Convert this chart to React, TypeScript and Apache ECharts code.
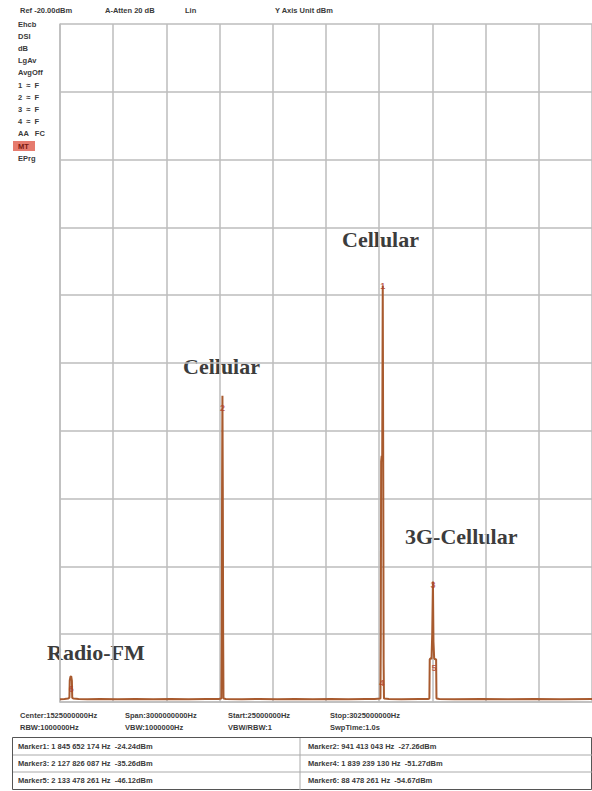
import React, { useEffect, useRef } from "react";
import * as echarts from "echarts";

// ---- axis setup (spectrum analyser, linear amplitude scale) ----
const START_MHZ = 25;
const STOP_MHZ = 3025;
const DIV_MHZ = 300;
const REF_DBM = -20;

// ---- trace: frequency (MHz) and level (dBm) ----
const traceFreqMHz = [
  25, 50, 70, 78, 80, 84, 88, 92, 94, 100, 130, 180, 250, 350, 450, 550, 650, 750, 850,
  920, 935, 937, 939, 941, 943, 945, 947, 960, 1050, 1150, 1250, 1350, 1450, 1550, 1650, 1750,
  1800, 1832, 1834, 1836, 1839, 1842, 1845, 1848, 1850, 1852, 1880, 1950, 2050,
  2100, 2108, 2110, 2116, 2120, 2124, 2128, 2131, 2135, 2140, 2146, 2148, 2165, 2250, 2400, 2550,
  2700, 2850, 3025,
];
const traceLevelDbm = [
  -68, -67, -66, -64, -50, -48.6, -48.4, -50, -64, -66, -67, -68, -67, -68, -67, -68, -67, -68, -67,
  -67, -66, -40, -30, -26.9, -30, -40, -66, -67, -68, -67, -68, -67, -68, -67, -68, -67,
  -67, -66, -40, -29, -28.8, -29, -24.24, -30, -45, -66, -67, -68, -67,
  -67, -66, -44, -43.8, -44, -40, -35.0, -41, -43.8, -44, -44, -66, -67, -68, -67, -68,
  -67, -68, -67,
];

// ---- markers ----
const markerIds = ["1", "2", "3", "4", "5", "6"];
const markerFreqHz = [1845652174, 941413043, 2127826087, 1839239130, 2133478261, 88478261];
const markerLevelDbm = [-24.24, -27.26, -35.26, -51.27, -46.12, -54.67];

// ---- annotations ----
const annotations = ["Radio-FM", "Cellular", "Cellular", "3G-Cellular"];

// ---- instrument texts ----
const headerTexts = ["Ref -20.00dBm", "A-Atten 20 dB", "Lin", "Y Axis Unit dBm"];
const sideTexts = ["Ehcb", "DSI", "dB", "LgAv", "AvgOff", "1  \u2248  F", "2  \u2248  F", "3  \u2248  F", "4  \u2248  F", "AA   FC", "MT", "EPrg"];
const infoRow1 = ["Center:1525000000Hz", "Span:3000000000Hz", "Start:25000000Hz", "Stop:3025000000Hz"];
const infoRow2 = ["RBW:1000000Hz", "VBW:1000000Hz", "VBW/RBW:1", "SwpTime:1.0s"];

const toPct = (dbm: number) => 100 * Math.pow(10, (dbm - REF_DBM) / 20);

function fmtHz(hz: number) {
  const s = String(hz);
  const parts: string[] = [];
  for (let i = s.length; i > 0; i -= 3) parts.unshift(s.slice(Math.max(0, i - 3), i));
  return parts.join(" ");
}

export default function App() {
  const ref = useRef<HTMLDivElement>(null);
  useEffect(() => {
    if (!ref.current) return;
    const chart = echarts.init(ref.current, null, { renderer: "svg" });

    const trace = traceFreqMHz.map((f, i) => [f - START_MHZ, toPct(traceLevelDbm[i])]);
    const markers = markerIds.map((id, i) => [markerFreqHz[i] / 1e6 - START_MHZ, toPct(markerLevelDbm[i]), id]);

    const small = { fontFamily: "Liberation Sans", fontSize: 7.5, fill: "#3a3a3a", fontWeight: "bold" as const };
    const big = { fontFamily: "Liberation Serif", fontSize: 22, fontWeight: "bold" as const, fill: "#3c3c3c" };

    const graphics: any[] = [];
    const hx = [20, 105, 185, 275];
    headerTexts.forEach((t, i) => graphics.push({ type: "text", left: hx[i], top: 6, style: { ...small, text: t } }));
    sideTexts.forEach((t, i) => {
      const y = 20 + i * 12.2;
      if (t === "MT") {
        graphics.push({ type: "rect", shape: { x: 13, y: y - 1, width: 22, height: 10 }, style: { fill: "#e05a4a", opacity: 0.8 } });
      }
      graphics.push({ type: "text", left: 18, top: y, style: { ...small, text: t, fill: t === "MT" ? "#7a1a10" : "#3a3a3a" } });
    });
    const ix = [20, 125, 228, 330];
    infoRow1.forEach((t, i) => graphics.push({ type: "text", left: ix[i], top: 711, style: { ...small, text: t } }));
    infoRow2.forEach((t, i) => graphics.push({ type: "text", left: ix[i], top: 723, style: { ...small, text: t } }));

    // marker table
    graphics.push({ type: "rect", shape: { x: 12.5, y: 737.5, width: 579, height: 52 }, style: { fill: "none", stroke: "#555", lineWidth: 1 } });
    graphics.push({ type: "line", shape: { x1: 13, y1: 755, x2: 592, y2: 755 }, style: { stroke: "#aaa", lineWidth: 1 } });
    graphics.push({ type: "line", shape: { x1: 13, y1: 772, x2: 592, y2: 772 }, style: { stroke: "#aaa", lineWidth: 1 } });
    graphics.push({ type: "line", shape: { x1: 300, y1: 738, x2: 300, y2: 790 }, style: { stroke: "#aaa", lineWidth: 1 } });
    const order = [[0, 1], [2, 3], [4, 5]];
    order.forEach((pair, r) => {
      pair.forEach((m, c) => {
        graphics.push({
          type: "text",
          left: c === 0 ? 18 : 308,
          top: 742 + r * 17,
          style: { ...small, text: `Marker${markerIds[m]}: ${fmtHz(markerFreqHz[m])} Hz  ${markerLevelDbm[m].toFixed(2)}dBm` },
        });
      });
    });

    // annotations
    const ax = [47, 183, 342, 405];
    const ay = [641, 355, 228, 525];
    annotations.forEach((t, i) => graphics.push({ type: "text", left: ax[i], top: ay[i], style: { ...big, text: t } }));

    chart.setOption({
      animation: false,
      backgroundColor: "#ffffff",
      grid: { left: 60, right: 0, top: 24, bottom: 89 },
      xAxis: {
        type: "value",
        min: 0,
        max: STOP_MHZ - START_MHZ,
        interval: DIV_MHZ,
        axisLabel: { show: false },
        axisTick: { show: false },
        axisLine: { show: true, lineStyle: { color: "#bdbdbd", width: 1.5 } },
        splitLine: { show: true, lineStyle: { color: "#bdbdbd", width: 1.5 } },
      },
      yAxis: {
        type: "value",
        min: 0,
        max: 100,
        interval: 10,
        axisLabel: { show: false },
        axisTick: { show: false },
        axisLine: { show: true, lineStyle: { color: "#bdbdbd", width: 1.5 } },
        splitLine: { show: true, lineStyle: { color: "#bdbdbd", width: 1.5 } },
      },
      series: [
        {
          type: "line",
          data: trace,
          symbol: "none",
          lineStyle: { color: "#a85a2e", width: 2 },
          z: 3,
        },
        {
          type: "scatter",
          data: markers,
          symbolSize: 1,
          itemStyle: { color: "rgba(0,0,0,0)" },
          label: {
            show: true,
            position: "inside",
            formatter: (p: any) => p.value[2],
            color: "#b0402a",
            fontSize: 9,
            fontWeight: "bold",
            fontFamily: "Liberation Sans",
          },
          z: 4,
        },
      ],
      graphic: graphics,
    });
    return () => chart.dispose();
  }, []);
  return <div ref={ref} style={{ position: "fixed", left: 0, top: 0, width: 592, height: 791 }} />;
}
